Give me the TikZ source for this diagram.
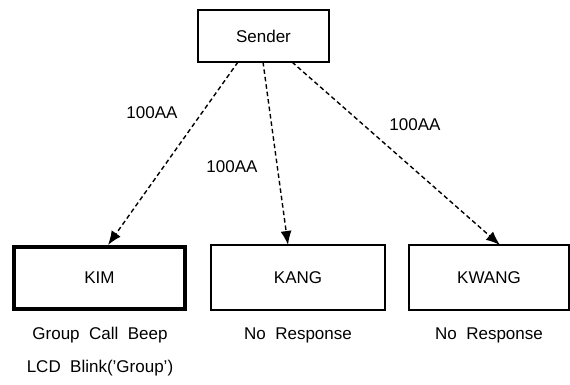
\documentclass[tikz,border=0pt]{standalone}
\usepackage{fontspec}
\setmainfont{Liberation Sans}
\usetikzlibrary{arrows.meta}
\begin{document}
\begin{tikzpicture}[x=1pt,y=-1pt,
  box/.style={draw,line width=1.4pt,inner sep=0pt,font=\fontsize{17}{20}\selectfont},
  msg/.style={draw,line width=1.4pt,dash pattern=on 4.5pt off 3pt,-{Latex[length=14pt,width=11pt]}},
  lbl/.style={font=\fontsize{17}{20}\selectfont,inner sep=0pt},
  note/.style={font=\fontsize{17}{20}\selectfont,inner sep=0pt}]
\useasboundingbox (0,0) rectangle (570,384);
\node[box,minimum width=131pt,minimum height=52pt] (sender) at (263.5,36) {Sender};
\node[box,line width=4.5pt,minimum width=171pt,minimum height=62pt] (kim) at (99.5,278) {KIM};
\node[box,minimum width=174pt,minimum height=65pt] (kang) at (298,277.5) {KANG};
\node[box,minimum width=160pt,minimum height=65pt] (kwang) at (489,277.5) {KWANG};
\node[note] (n1) at (100,335) {Group\ \ Call\ \ Beep};
\node[note] (n2) at (100,368) {LCD\ \ Blink('Group')};
\node[note] (n3) at (298,335) {No\ \ Response};
\node[note] (n4) at (489,335) {No\ \ Response};
\coordinate (s1) at (238,62);
\coordinate (s2) at (263,62);
\coordinate (s3) at (292,62);
\coordinate (t1) at (108,245);
\coordinate (t2) at (288,245);
\coordinate (t3) at (500,245);
\draw[msg] (s1) -- (t1);
\draw[msg] (s2) -- (t2);
\draw[msg] (s3) -- (t3);
\node[lbl] (l1) at (152,113) {100AA};
\node[lbl] (l2) at (232,167) {100AA};
\node[lbl] (l3) at (415,125) {100AA};
\end{tikzpicture}
\end{document}
